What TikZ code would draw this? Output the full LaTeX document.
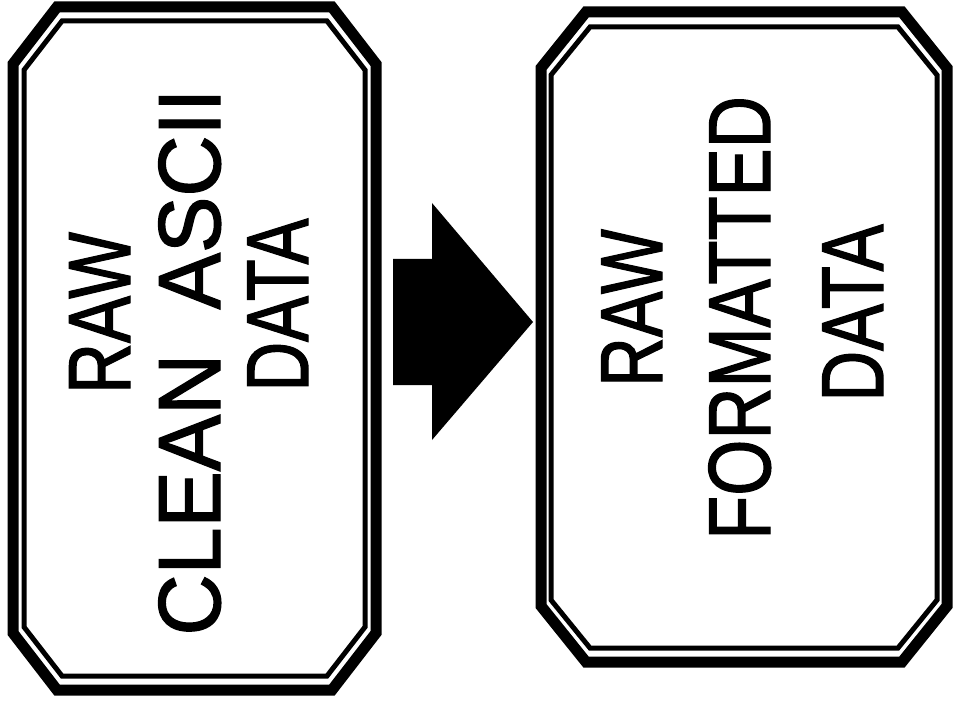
\documentclass[tikz,border=0pt]{standalone}
\usepackage{fontspec}
\setmainfont{Liberation Sans}
\newfontfamily\lblfont[FakeBold=1.6]{Liberation Sans}
\usepackage{graphicx}
\newcommand\chambox[8]{% name, style, L, T, R, B, cx, cy
  \draw[#2] ({#3+#7},#4) coordinate (#1-nw) -- ({#5-#7},#4) -- (#5,{#4+#8}) -- (#5,{#6-#8}) -- ({#5-#7},#6) coordinate (#1-se) -- ({#3+#7},#6) -- (#3,{#6-#8}) -- (#3,{#4+#8}) -- cycle;}
\begin{document}
\begin{tikzpicture}[x=1pt,y=-1pt,
  outerline/.style={draw=black,line width=11pt,line join=miter},
  innerline/.style={draw=black,line width=5pt,line join=miter},
  lbl/.style={inner sep=0pt,anchor=base,rotate=90,font=\lblfont\fontsize{88}{100}\selectfont},
  blockarrow/.style={fill=black,draw=none}]
\useasboundingbox[fill=white] (0,0) rectangle (953,703);
% left box
\chambox{lo}{outerline}{13}{7}{376}{690}{44}{57}
\chambox{li}{innerline}{24}{21}{365}{676}{38}{49}
% right box
\chambox{ro}{outerline}{541}{12}{947}{662}{45}{56}
\chambox{ri}{innerline}{551}{27}{937}{648}{39}{48}
% arrow
\coordinate (a1) at (393,259);
\coordinate (a2) at (432,259);
\coordinate (a3) at (432,203);
\coordinate (tip) at (533,322);
\coordinate (a5) at (432,440);
\coordinate (a6) at (432,385);
\coordinate (a7) at (393,385);
\fill[blockarrow] (a1) -- (a2) -- (a3) -- (tip) -- (a5) -- (a6) -- (a7) -- cycle;
% left texts
\node[lbl] (l1) at (130,313) {\scalebox{0.8}[1]{RAW}};
\node[lbl] (l2) at (220,362) {\scalebox{0.96}[1]{CLEAN\hspace{22pt} ASCII}};
\node[lbl] (l3) at (308,305) {\scalebox{0.78}[1]{DATA}};
% right texts
\node[lbl] (r1) at (662,308) {\scalebox{0.78}[1]{RAW}};
\node[lbl] (r2) at (770,318) {\scalebox{0.82}[1]{FORMATTED}};
\node[lbl] (r3) at (883,313) {\scalebox{0.8}[1]{DATA}};
\end{tikzpicture}
\end{document}
